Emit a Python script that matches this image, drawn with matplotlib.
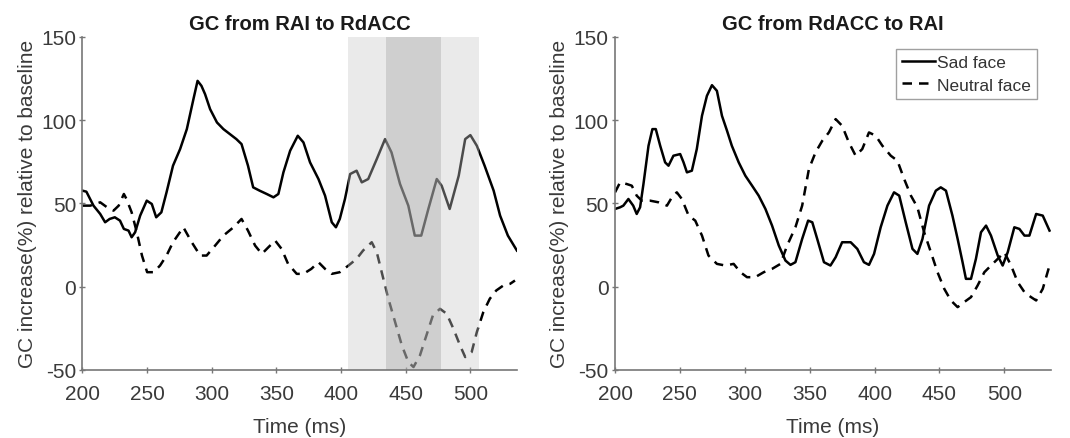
import matplotlib
matplotlib.use('Agg')
import matplotlib.pyplot as plt

plt.rcParams['font.family'] = ['Liberation Sans', 'DejaVu Sans']
plt.rcParams['axes.unicode_minus'] = False

# Left panel: GC from RAI to RdACC
left_sad_t = [200, 203, 208.5, 213.7, 217.5, 221, 225, 229, 232, 235.6, 238, 240.7, 244.6, 249.7,
              253.6, 257, 261, 265, 270, 275.5, 280.7, 285.8, 289, 292, 294.8, 298.7, 304, 309,
              314, 319, 323, 328, 332, 337, 342.5, 347.7, 351.5, 355.4, 360.6, 366.5, 370.9,
              376, 382.5, 387.6, 392.8, 396, 399, 403, 407, 412, 416, 421, 427.6, 434, 439,
              445.6, 452, 457, 462, 467.5, 474, 477.8, 484, 491, 496, 500, 505, 511, 518, 523,
              529, 536]
left_sad_v = [57.6, 57, 48.6, 43.6, 38.6, 40.6, 41.6, 39.6, 34.6, 33.6, 29.6, 32.6, 42.6, 51.6,
              49.6, 41.6, 44.6, 56.6, 72.6, 82.6, 94.6, 112.6, 123.6, 120.6, 115.6, 106.6, 98.6,
              94.6, 91.6, 88.6, 85.6, 72.6, 59.6, 57.6, 55.6, 53.6, 55.6, 68.6, 81.6, 90.6, 86.6,
              74.6, 64.6, 54.6, 38.6, 35.6, 40.6, 52.6, 67.6, 69.6, 62.6, 64.6, 76.6, 88.6, 80.6,
              61.6, 48.6, 30.6, 30.6, 46.6, 64.6, 60.6, 46.6, 66.6, 88.6, 91, 84.6, 72.6, 57.6,
              42.6, 30.6, 21.6]
left_neu_t = [200, 206, 213.7, 219, 224, 228, 232, 234, 238, 242, 246, 250, 255, 260, 265, 270,
              278, 284.5, 291, 296, 302.6, 309, 316.8, 323, 328, 333.5, 338.7, 343.8, 349, 354,
              359, 365.7, 370.9, 377, 382.5, 387.6, 392.8, 399, 405.7, 412, 417, 423.7, 427.6,
              432.7, 436.6, 441.8, 447, 452, 456, 461, 466, 471, 476.5, 481.7, 486.9, 492, 496,
              501, 505, 510, 515, 520, 525.5, 530.7, 534.5]
left_neu_v = [48.6, 48.6, 50.6, 47.6, 45.6, 48.6, 55.6, 52.6, 44.6, 32.6, 18.6, 8.6, 8.6, 12.6,
              18.6, 26.6, 35.6, 26.6, 18.6, 18.6, 24.6, 30.6, 35.6, 40.6, 33.6, 24.6, 19.6, 23.6,
              27.6, 22.6, 13.6, 7.6, 7.6, 10.6, 14.6, 10.6, 7.6, 8.6, 12.6, 16.6, 21.6, 26.6,
              20.6, 4.6, -7.4, -21.4, -35.4, -45.4, -48.4, -41.4, -29.4, -17.4, -13.4, -16.4,
              -25.4, -35.4, -42.4, -39.4, -27.4, -15.4, -7.4, -2.4, 0.6, 1.6, 3.6]

# Right panel: GC from RdACC to RAI
right_sad_t = [200, 203.9, 206.4, 210.3, 214, 216.7, 219.3, 221.9, 225.8, 228.8, 231.4, 234.8,
               238.6, 241.2, 245, 250.2, 252.8, 255.4, 259.2, 263, 267, 270.8, 274.7, 278.5,
               282.4, 286.3, 290, 295.3, 300.4, 305.6, 310.7, 315.9, 321, 326.2, 331.3, 335.2,
               339, 344.2, 348.8, 352, 355.8, 361, 366, 370, 375, 381.6, 386.7, 391.8, 395.7,
               399.6, 404.7, 409.9, 415, 419, 424, 429.2, 433, 436.9, 442, 447.2, 451, 455, 460,
               464, 467.8, 470.4, 474.3, 478.1, 482, 485.9, 489.7, 494.9, 498.7, 502.6, 507.7,
               511.6, 515.5, 519.3, 524.5, 529.6, 534.8]
right_sad_v = [46.6, 47.6, 48.6, 52.6, 48.6, 43.6, 47.6, 61.6, 84.6, 94.6, 94.6, 84.6, 74.6,
               72.6, 78.6, 79.6, 74.6, 68.6, 69.6, 82.6, 102.6, 114.6, 121, 117.6, 102.6, 93.6,
               84.6, 74.6, 66.6, 60.6, 54.6, 46.6, 36.6, 24.6, 15.6, 13, 14.6, 28.6, 39.6, 38.6,
               28.6, 14.6, 12.6, 17.6, 26.6, 26.6, 22.6, 14.6, 13, 19.6, 35.6, 48.6, 56.6, 54.6,
               38.6, 22.6, 19.6, 28.6, 48.6, 57.6, 59.6, 57.6, 42.6, 28.6, 14.6, 4.6, 4.6, 16.6,
               32.6, 36.6, 30.6, 18.6, 12.6, 20.6, 35.6, 34.6, 30.6, 30.6, 43.6, 42.6, 33.6]
right_neu_t = [200, 203.9, 209, 212.9, 216.7, 220.6, 227, 233.5, 240, 243.8, 247.6, 251.5,
               256.7, 261.8, 267, 272, 278.5, 285, 291.4, 296.6, 301.7, 308, 314.6, 321, 327.5,
               332.6, 339, 344.2, 349.4, 354.5, 359.7, 364.8, 370, 375, 380.2, 385.4, 390.5,
               395.7, 400.9, 406, 412.5, 417.6, 422.8, 428, 433, 438.2, 443.4, 448.5, 453.7,
               458.8, 464, 469, 474.3, 479.4, 484.6, 489.7, 494.9, 500, 505.2, 510.3, 515.5,
               520.6, 524.5, 529.6, 534.8]
right_neu_v = [56.6, 62.6, 61.6, 60.6, 54.6, 51.6, 51.6, 50.6, 48.6, 53.6, 56.6, 52.6, 42.6,
               39.6, 30.6, 18.6, 13.6, 12.6, 13.6, 8.6, 5.6, 5.6, 8.6, 10.6, 13.6, 24.6, 35.6,
               48.6, 70.6, 80.6, 87.6, 92.6, 100.6, 96.6, 86.6, 78.6, 82.6, 92.6, 90.6, 84.6,
               78.6, 75.6, 64.6, 54.6, 47.6, 32.6, 20.6, 8.6, -1.4, -8.4, -12.4, -9.4, -6.4, 0.6,
               8.6, 12.6, 16.6, 20.6, 12.6, 2.6, -3.4, -6.4, -8.4, -1.4, 12.6]

titles = ['GC from RAI to RdACC', 'GC from RdACC to RAI']
labels = ['Sad face', 'Neutral face']

fig = plt.figure(figsize=(10.7, 4.39), dpi=100)
ax1 = fig.add_axes([0.0771, 0.1556, 0.406, 0.758])
ax2 = fig.add_axes([0.5748, 0.1556, 0.4075, 0.758])

panels = [(ax1, left_sad_t, left_sad_v, left_neu_t, left_neu_v),
          (ax2, right_sad_t, right_sad_v, right_neu_t, right_neu_v)]

for i, (ax, st, sv, nt, nv) in enumerate(panels):
    ax.plot(st, sv, color='black', lw=1.8, label=labels[0], zorder=1)
    ax.plot(nt, nv, color='black', lw=1.8, ls=(0, (3.8, 2.8)), label=labels[1], zorder=1)
    ax.set_xlim(200, 536)
    ax.set_ylim(-50, 150)
    ax.set_xticks([200, 250, 300, 350, 400, 450, 500])
    ax.set_yticks([-50, 0, 50, 100, 150])
    ax.set_title(titles[i], fontsize=14.5, fontweight='bold', color='#1a1a1a', pad=6)
    ax.set_xlabel('Time (ms)', fontsize=15, color='#3a3a3a', labelpad=10)
    ax.set_ylabel('GC increase(%) relative to baseline', fontsize=15, color='#3a3a3a',
                  labelpad=3)
    for s in ['top', 'right']:
        ax.spines[s].set_visible(False)
    for s in ['left', 'bottom']:
        ax.spines[s].set_color('#777777')
        ax.spines[s].set_linewidth(1.2)
    ax.tick_params(direction='inout', length=5, width=1, colors='#777777',
                   labelsize=15, labelcolor='#3a3a3a')
    ax.tick_params(axis='x', pad=8)
    ax.tick_params(axis='y', pad=2)

# shaded time windows on the left panel, drawn over the lines
ax1.axvspan(405, 435, color='#c8c8c8', alpha=0.38, lw=0, zorder=2)
ax1.axvspan(435, 477, color='#b0b0b0', alpha=0.6, lw=0, zorder=2)
ax1.axvspan(477, 507, color='#c8c8c8', alpha=0.38, lw=0, zorder=2)

leg = ax2.legend(loc='upper right', bbox_to_anchor=(0.968, 0.963), fontsize=12.5,
                 frameon=True, fancybox=False, handlelength=1.9, handletextpad=0.1,
                 borderpad=0.35, labelspacing=0.4, borderaxespad=0)
leg.get_frame().set_edgecolor('#888888')
leg.get_frame().set_linewidth(1.0)
for t in leg.get_texts():
    t.set_color('#333333')

fig.savefig('out.png', dpi=100)
